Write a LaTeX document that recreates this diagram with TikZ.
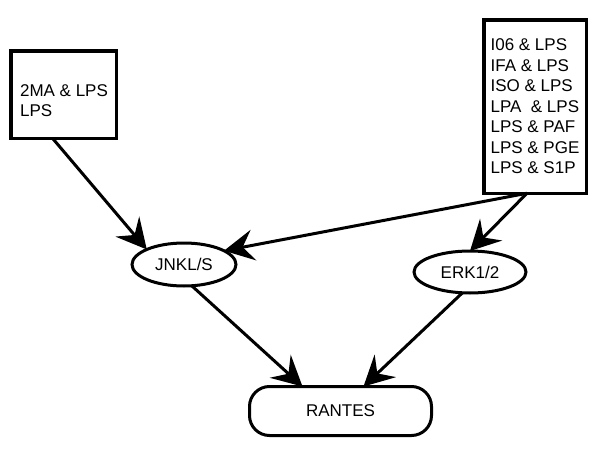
\documentclass[tikz,border=0pt]{standalone}
\usepackage{fontspec}
\setmainfont{Liberation Sans}
\usetikzlibrary{arrows.meta,shapes.geometric,calc}
\begin{document}
\begin{tikzpicture}[x=1pt,y=-1pt,
  lbl/.style={font=\fontsize{17}{20.5}\selectfont},
  boxnode/.style={draw,line width=3.5pt,lbl,align=left,inner sep=0pt,outer sep=0pt},
  ell/.style={draw,ellipse,line width=3pt,lbl,inner sep=0pt,outer sep=0pt},
  arr/.style={line width=3pt,-{Stealth[length=30pt,width=31pt,inset=11pt]}}]
\useasboundingbox (0,0) rectangle (600,450);
\node[boxnode,minimum width=105.5pt,minimum height=87.5pt] (lbox) at (63.5,94.5) {};
\node[lbl,align=left,inner sep=0pt] (ltext) at (64,100.5) {2MA \& LPS\\LPS};
\node[boxnode,minimum width=102.5pt,minimum height=173.5pt] (rbox) at (535,106.5)
  {I06 \& LPS\\IFA \& LPS\\ISO \& LPS\\LPA\ \ \& LPS\\LPS \& PAF\\LPS \& PGE\\LPS \& S1P};
\node[ell,minimum width=104pt,minimum height=43pt] (jnk) at (184,264.5) {JNKL/S};
\node[ell,minimum width=112pt,minimum height=42pt] (erk) at (470,272) {ERK1/2};
\node[draw,rounded corners=20pt,line width=3pt,lbl,minimum width=182pt,minimum height=49pt,inner sep=0pt,outer sep=0pt] (ran) at (340.5,411) {RANTES};
\draw[arr] ($(lbox.south)+(-11,0)$) -- (jnk.158);
\draw[arr] ($(rbox.south)+(-8,0)$) -- (jnk.19);
\draw[arr] ($(rbox.south)+(-8,0)$) -- (erk.north);
\draw[arr] ($(jnk.south)+(8,0)$) -- ($(ran.north)+(-38,0)$);
\draw[arr] (erk.250) -- ($(ran.north)+(23,0)$);
\end{tikzpicture}
\end{document}
